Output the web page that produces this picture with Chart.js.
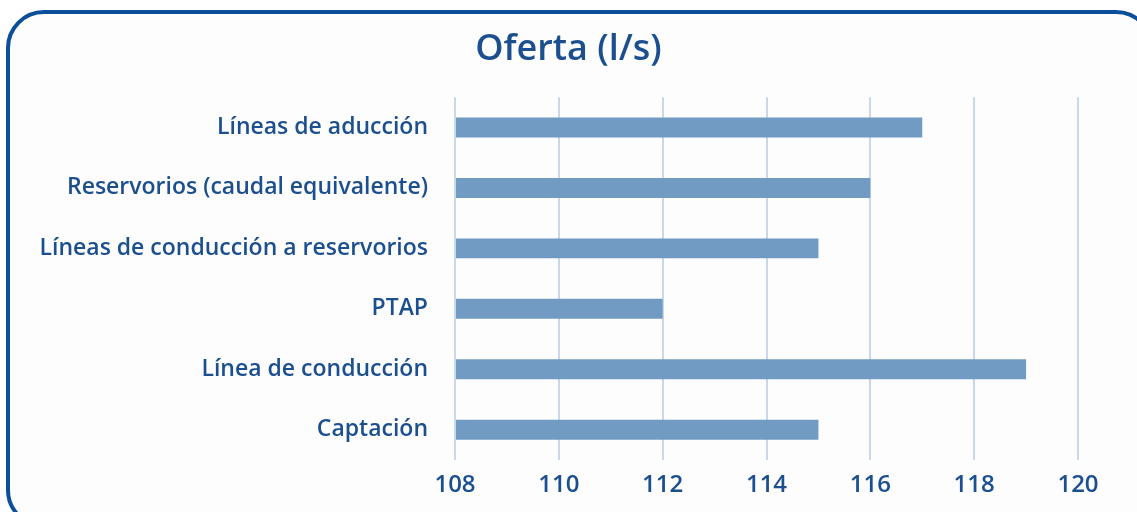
<!DOCTYPE html>
<html>
<head>
<meta charset="utf-8">
<script src="https://cdn.jsdelivr.net/npm/chart.js@4/dist/chart.umd.min.js"></script>
<style>
  html, body { margin: 0; padding: 0; background: #ffffff; overflow: hidden; }
  #frame {
    position: absolute; left: 6px; top: 10px;
    width: 1140px; height: 510px;
    border: 4px solid #0b4f9a; border-radius: 38px;
    background: #fdfdfd;
  }
  #wrap { position: absolute; left: 0; top: 0; width: 1137px; height: 512px; }
</style>
</head>
<body>
<div id="frame"></div>
<div id="wrap"><canvas id="ofertaChart"></canvas></div>
<script>
// Datos
const categorias = [
    'Líneas de aducción',
    'Reservorios (caudal equivalente)',
    'Líneas de conducción a reservorios',
    'PTAP',
    'Línea de conducción',
    'Captación'
];
const caudales = [117, 116, 115, 112, 119, 115];
const ejeMin = 108;
const ejeMax = 120;

const azulTexto = '#1b4f8f';
const fuente = "'Open Sans', 'Noto Sans', sans-serif";

// El título va centrado sobre todo el lienzo, no sobre el área del gráfico
const centrarTitulo = {
    id: 'centrarTitulo',
    afterLayout(chart) {
        if (chart.titleBlock) {
            chart.titleBlock.left = 0;
            chart.titleBlock.right = chart.width;
        }
    }
};

const ctx = document.getElementById('ofertaChart');

new Chart(ctx, {
    type: 'bar',
    data: {
        labels: categorias,
        datasets: [{
            label: 'Oferta (l/s)',
            data: caudales,
            backgroundColor: '#729bc4',
            borderWidth: 0,
            base: ejeMin,
            barPercentage: 0.66,
            categoryPercentage: 0.5
        }]
    },
    options: {
        indexAxis: 'y',
        responsive: true,
        maintainAspectRatio: false,
        animation: false,
        layout: { padding: { left: 0, right: 59, top: 0, bottom: 0 } },
        plugins: {
            legend: { display: false },
            tooltip: { enabled: false },
            title: {
                display: true,
                text: 'Oferta (l/s)',
                color: azulTexto,
                font: { family: fuente, size: 36, weight: '600' },
                padding: { top: 28, bottom: 26 }
            }
        },
        scales: {
            x: {
                min: ejeMin,
                max: ejeMax,
                ticks: {
                    stepSize: 2,
                    color: azulTexto,
                    font: { family: fuente, size: 24, weight: '600' },
                    padding: 11
                },
                grid: { color: '#c9d8ea', lineWidth: 2, drawTicks: false },
                border: { display: false },
                afterFit: function(scale) { scale.height = 52; }
            },
            y: {
                ticks: {
                    color: azulTexto,
                    font: { family: fuente, size: 23, weight: '600' },
                    padding: 27
                },
                grid: { display: false, drawTicks: false },
                border: { display: false },
                afterFit: function(scale) { scale.width = 455; }
            }
        }
    },
    plugins: [centrarTitulo]
});
</script>
</body>
</html>
